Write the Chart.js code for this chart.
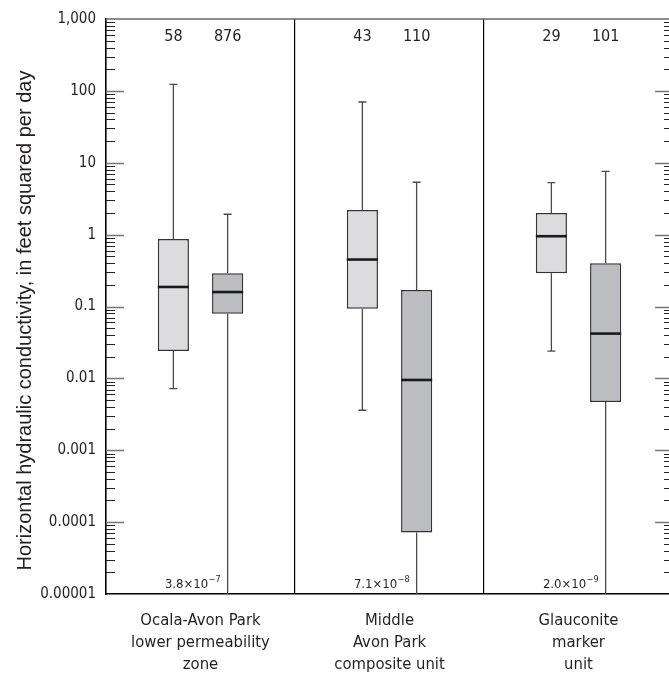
<!DOCTYPE html>
<html>
<head>
<meta charset="utf-8">
<script src="https://cdn.jsdelivr.net/npm/chart.js@4.4.0/dist/chart.umd.min.js"></script>
<style>
  html, body { margin: 0; padding: 0; background: #fff; overflow: hidden; }
  #wrap { width: 673px; height: 673px; }
</style>
</head>
<body>
<div id="wrap"><canvas id="chart"></canvas></div>
<script>
// Hydrogeologic units (x categories)
const unitLabels = [
    ['Ocala-Avon Park', 'lower permeability', 'zone'],
    ['Middle', 'Avon Park', 'composite unit'],
    ['Glauconite', 'marker', 'unit']
];

// Number of values in each box
const countsLight = [58, 43, 29];
const countsDark = [876, 110, 101];

// Light gray boxes (left box of each unit)
const lightMin = [0.0072, 0.0036, 0.024];
const lightQ1 = [0.024, 0.093, 0.29];
const lightMedian = [0.187, 0.45, 0.95];
const lightQ3 = [0.87, 2.2, 2.0];
const lightMax = [123, 70, 5.3];

// Dark gray boxes (right box of each unit)
const darkMin = [3.8e-7, 7.1e-8, 2.0e-9];
const darkQ1 = [0.079, 7.2e-5, 0.0047];
const darkMedian = [0.159, 0.0095, 0.042];
const darkQ3 = [0.29, 0.17, 0.4];
const darkMax = [1.92, 5.35, 7.6];

// Y axis
const yTicks = [1e-5, 1e-4, 1e-3, 0.01, 0.1, 1, 10, 100, 1000];
const yTickLabels = ['0.00001', '0.0001', '0.001', '0.01', '0.1', '1', '10', '100', '1,000'];
const yTitle = 'Horizontal hydraulic conductivity, in feet squared per day';

const narrow = "'Liberation Sans Narrow', 'DejaVu Sans Condensed', 'Liberation Sans', sans-serif";
const regular = "'Liberation Sans', Arial, sans-serif";
const textColor = '#231f20';

// Whiskers, medians, counts and out-of-range minimums
const boxPlotPlugin = {
    id: 'boxPlot',
    afterDatasetsDraw(chart) {
        const ctx = chart.ctx;
        const y = chart.scales.y;
        const area = chart.chartArea;
        const capHalf = 4;

        chart.data.datasets.forEach((ds, di) => {
            const meta = chart.getDatasetMeta(di);
            meta.data.forEach((bar, i) => {
                const x = bar.x;
                const half = bar.width / 2;
                const lo = ds.whiskerLow[i];
                const hi = ds.whiskerHigh[i];

                ctx.save();
                ctx.strokeStyle = '#4a4a4a';
                ctx.lineWidth = 1.3;

                // upper whisker
                const yQ3 = y.getPixelForValue(ds.data[i][1]);
                const yHi = y.getPixelForValue(hi);
                ctx.beginPath();
                ctx.moveTo(x, yQ3);
                ctx.lineTo(x, yHi);
                ctx.moveTo(x - capHalf, yHi);
                ctx.lineTo(x + capHalf, yHi);
                ctx.stroke();

                // lower whisker
                const yQ1 = y.getPixelForValue(ds.data[i][0]);
                const inRange = lo >= y.min;
                const yLo = inRange ? y.getPixelForValue(lo) : area.bottom;
                ctx.beginPath();
                ctx.moveTo(x, yQ1);
                ctx.lineTo(x, yLo);
                if (inRange) {
                    ctx.moveTo(x - capHalf, yLo);
                    ctx.lineTo(x + capHalf, yLo);
                }
                ctx.stroke();

                // median
                const yMed = y.getPixelForValue(ds.median[i]);
                ctx.strokeStyle = '#1a1a1a';
                ctx.lineWidth = 2.6;
                ctx.beginPath();
                ctx.moveTo(x - half, yMed);
                ctx.lineTo(x + half, yMed);
                ctx.stroke();

                // number of values
                ctx.fillStyle = textColor;
                ctx.font = '16px ' + narrow;
                ctx.textAlign = 'center';
                ctx.textBaseline = 'middle';
                ctx.fillText(String(ds.counts[i]), x, area.top + 18);

                // minimum below the axis
                if (!inRange) {
                    const exp = Math.floor(Math.log10(lo));
                    const mant = (lo / Math.pow(10, exp)).toFixed(1);
                    const sup = '\u2212' + Math.abs(exp);
                    ctx.textBaseline = 'alphabetic';
                    ctx.textAlign = 'right';
                    ctx.font = '9px ' + narrow;
                    const right = x - 7;
                    const supW = ctx.measureText(sup).width;
                    ctx.fillText(sup, right, area.bottom - 12);
                    ctx.font = '13px ' + narrow;
                    ctx.fillText(mant + '\u00d710', right - supW - 0.5, area.bottom - 6);
                }
                ctx.restore();
            });
        });
    },
    afterDraw(chart) {
        const ctx = chart.ctx;
        const y = chart.scales.y;
        const area = chart.chartArea;
        ctx.save();
        // top frame line
        ctx.strokeStyle = '#666';
        ctx.lineWidth = 1.5;
        ctx.beginPath();
        ctx.moveTo(area.left, area.top);
        ctx.lineTo(area.right, area.top);
        ctx.stroke();

        // inward log ticks on both sides
        for (let d = 0; d < yTicks.length - 1; d++) {
            const base = yTicks[d];
            for (let m = 1; m < 10; m++) {
                const py = Math.round(y.getPixelForValue(base * m)) + 0.5;
                const major = m === 1;
                if (major && d === 0) continue;
                const len = major ? 18 : 9;
                ctx.strokeStyle = major ? '#777' : '#222';
                ctx.lineWidth = major ? 1.5 : 1.2;
                ctx.beginPath();
                ctx.moveTo(area.left, py);
                ctx.lineTo(area.left + len, py);
                ctx.moveTo(area.right, py);
                ctx.lineTo(area.right - len, py);
                ctx.stroke();
            }
        }

        // y axis title, sitting a little below the middle of the axis
        ctx.translate(25, (area.top + area.bottom) / 2 + 14);
        ctx.rotate(-Math.PI / 2);
        ctx.fillStyle = textColor;
        ctx.font = '20px ' + regular;
        ctx.textAlign = 'center';
        ctx.textBaseline = 'middle';
        ctx.fillText(yTitle, 0, 0);
        ctx.restore();
    }
};

const ctx = document.getElementById('chart');

new Chart(ctx, {
    type: 'bar',
    data: {
        labels: unitLabels,
        datasets: [
            {
                label: 'light',
                data: lightQ1.map((q, i) => [q, lightQ3[i]]),
                whiskerLow: lightMin,
                whiskerHigh: lightMax,
                median: lightMedian,
                counts: countsLight,
                backgroundColor: '#dcdcde',
                borderColor: '#333',
                borderWidth: 1.5,
                borderSkipped: false,
                categoryPercentage: 0.574,
                barPercentage: 0.574
            },
            {
                label: 'dark',
                data: darkQ1.map((q, i) => [q, darkQ3[i]]),
                whiskerLow: darkMin,
                whiskerHigh: darkMax,
                median: darkMedian,
                counts: countsDark,
                backgroundColor: '#bcbdc1',
                borderColor: '#333',
                borderWidth: 1.5,
                borderSkipped: false,
                categoryPercentage: 0.574,
                barPercentage: 0.574
            }
        ]
    },
    options: {
        responsive: true,
        maintainAspectRatio: false,
        animation: false,
        layout: { padding: { top: 19, left: 0, right: 0, bottom: 0 } },
        plugins: {
            legend: { display: false },
            tooltip: { enabled: false }
        },
        scales: {
            x: {
                type: 'category',
                grid: {
                    offset: true,
                    color: '#000',
                    lineWidth: 1.2,
                    drawTicks: false
                },
                border: { color: '#000', width: 1.5 },
                ticks: {
                    color: textColor,
                    font: { family: narrow, size: 16.5, lineHeight: 1.333 },
                    padding: 16,
                    maxRotation: 0,
                    autoSkip: false
                },
                afterFit(scale) { scale.height = 79; }
            },
            y: {
                type: 'logarithmic',
                min: 1e-5,
                max: 1000,
                afterBuildTicks(scale) {
                    scale.ticks = yTicks.map(v => ({ value: v }));
                },
                grid: { display: false, drawTicks: false },
                border: { display: true, color: '#000', width: 1.5 },
                ticks: {
                    color: textColor,
                    font: { family: narrow, size: 15 },
                    padding: 10,
                    callback: (value, index) => yTickLabels[index]
                },
                title: { display: false },
                afterFit(scale) { scale.width = 106; }
            }
        }
    },
    plugins: [boxPlotPlugin]
});
</script>
</body>
</html>
